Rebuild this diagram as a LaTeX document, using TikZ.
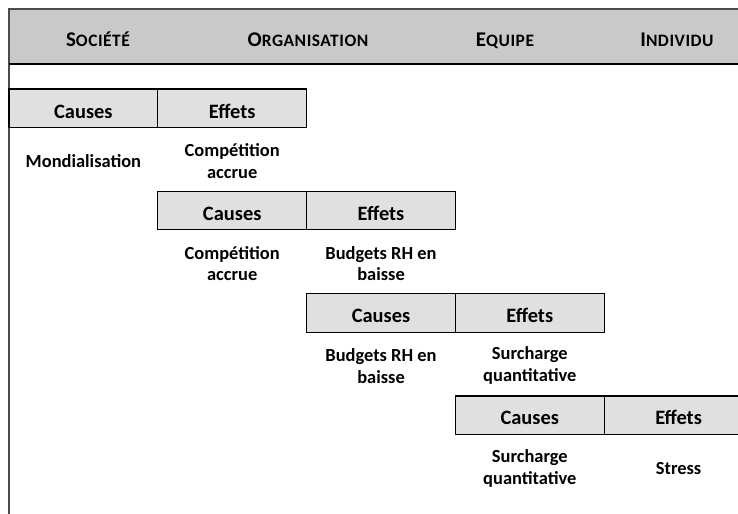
\documentclass[tikz,border=0pt]{standalone}
\usepackage{fontspec}
\setmainfont{Carlito}
\usetikzlibrary{positioning}

\definecolor{bandeau}{gray}{0.79}
\definecolor{caisse}{gray}{0.88}

% fake small caps for the column titles
\newcommand{\petitcap}[2]{{\fontsize{21}{24}\selectfont #1}{\fontsize{17.5}{20}\selectfont\addfontfeature{LetterSpace=3}#2}}

\begin{document}
\begin{tikzpicture}[x=1bp, y=-1bp, node distance=148.8bp, on grid,
  titre/.style={font=\bfseries, anchor=base, inner sep=0pt},
  case/.style={draw, line width=1.2bp, fill=caisse, minimum width=148.8bp,
    minimum height=38.5bp, inner sep=0pt, text height=19.5bp, text depth=0bp,
    font=\bfseries\fontsize{20.5}{24}\selectfont},
  texte/.style={align=center, inner sep=0pt, font=\bfseries\fontsize{18.5}{22}\selectfont}]
  \useasboundingbox (0,0) rectangle (738,514);

  % bandeau du haut
  \fill[bandeau] (9,9) rectangle (750,64);
  \draw[line width=1.2bp, black!70] (750,9) -- (9,9) -- (9,514);
  \draw[line width=1.6bp] (9,64) -- (750,64);

  \node[titre] (soc) at (98,46.5) {\petitcap{S}{OCIÉTÉ}};
  \node[titre] (org) at (308,46.5) {\petitcap{O}{RGANISATION}};
  \node[titre] (equ) at (505,46.5) {\petitcap{E}{QUIPE}};
  \node[titre] (ind) at (677,46.5) {\petitcap{I}{NDIVIDU}};

  % causes / effets, en escalier
  \node[case] (c1) at (83.4,108.3) {Causes};
  \node[case] (e1) [right=of c1] {Effets};
  \node[case] (c2) [below=102.3bp of e1] {Causes};
  \node[case] (e2) [right=of c2] {Effets};
  \node[case] (c3) [below=102.3bp of e2] {Causes};
  \node[case] (e3) [right=of c3] {Effets};
  \node[case] (c4) [below=102.3bp of e3] {Causes};
  \node[case] (e4) [right=of c4] {Effets};

  \node[texte] (tc1) [below=53bp of c1] {Mondialisation};
  \node[texte] (te1) [below=53bp of e1] {Compétition\\accrue};
  \node[texte] (tc2) [below=53bp of c2] {Compétition\\accrue};
  \node[texte] (te2) [below=53bp of e2] {Budgets RH en\\baisse};
  \node[texte] (tc3) [below=53bp of c3] {Budgets RH en\\baisse};
  \node[texte] (te3) [below=53bp of e3] {Surcharge\\quantitative};
  \node[texte] (tc4) [below=53bp of c4] {Surcharge\\quantitative};
  \node[texte] (te4) [below=53bp of e4] {Stress};
\end{tikzpicture}
\end{document}
